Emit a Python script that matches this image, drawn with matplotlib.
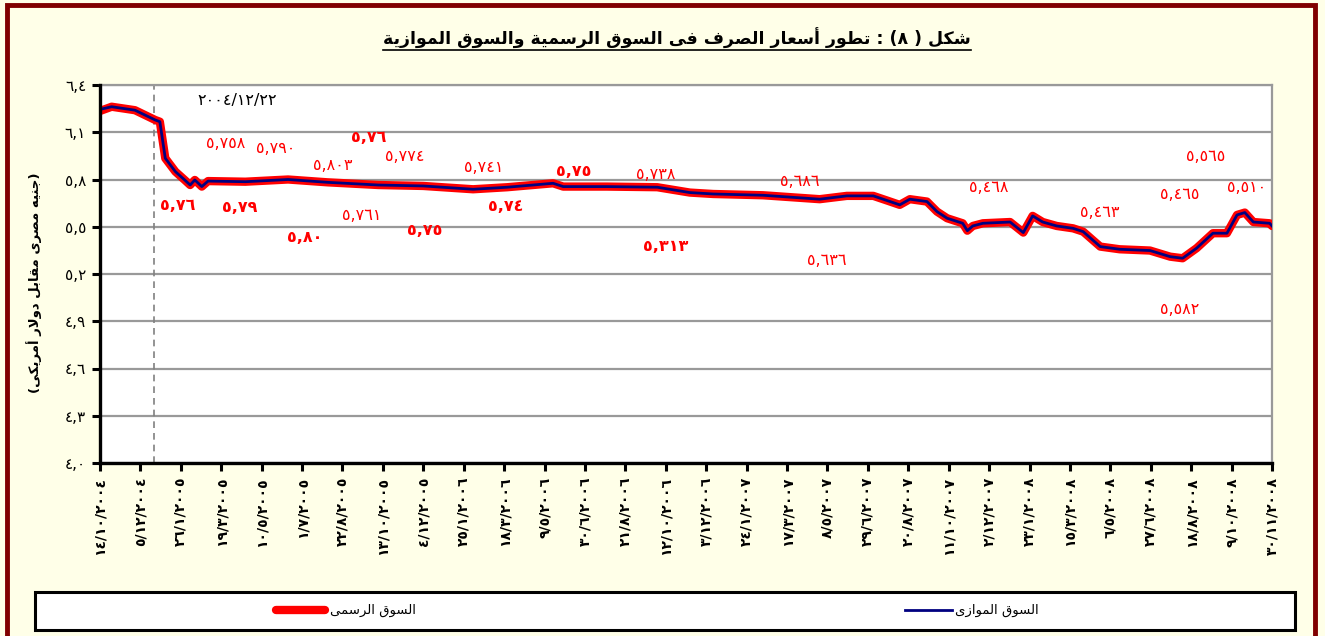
import re
import datetime as dt
import matplotlib
matplotlib.use('Agg')
import matplotlib.pyplot as plt
from matplotlib.patches import Rectangle
from matplotlib.lines import Line2D

plt.rcParams['font.family'] = ['DejaVu Sans']

# ---------------- data ----------------
dates = ['2004-10-14', '2004-10-29', '2004-11-28', '2004-12-24', '2004-12-30',
         '2005-01-06', '2005-01-19', '2005-01-31', '2005-02-07', '2005-02-13',
         '2005-02-22', '2005-03-02', '2005-04-19', '2005-06-13', '2005-08-03',
         '2005-10-07', '2005-12-04', '2006-02-06', '2006-03-22', '2006-05-20',
         '2006-06-02', '2006-07-28', '2006-10-01', '2006-11-12', '2006-12-12',
         '2007-02-14', '2007-04-28', '2007-06-02', '2007-07-06', '2007-07-24',
         '2007-08-09', '2007-08-22', '2007-09-13', '2007-09-26', '2007-10-09',
         '2007-10-29', '2007-11-04', '2007-11-11', '2007-11-24', '2007-12-29',
         '2008-01-15', '2008-01-27', '2008-02-09', '2008-02-27', '2008-03-19',
         '2008-04-01', '2008-04-23', '2008-05-18', '2008-06-26', '2008-07-22',
         '2008-08-07', '2008-08-25', '2008-09-15', '2008-10-03', '2008-10-16',
         '2008-10-26', '2008-11-06', '2008-11-27', '2008-11-30']
official = [6.235, 6.262, 6.240, 6.178, 6.167,
            5.935, 5.850, 5.797, 5.765, 5.797,
            5.755, 5.790, 5.786, 5.800, 5.782,
            5.765, 5.759, 5.738, 5.751, 5.776,
            5.755, 5.755, 5.751, 5.717, 5.708,
            5.700, 5.675, 5.696, 5.696, 5.666,
            5.639, 5.675, 5.660, 5.596, 5.554,
            5.522, 5.475, 5.505, 5.522, 5.530,
            5.463, 5.569, 5.530, 5.505, 5.490,
            5.469, 5.374, 5.357, 5.349, 5.310,
            5.300, 5.364, 5.459, 5.459, 5.575,
            5.590, 5.530, 5.522, 5.505]
parallel = [6.245, 6.262, 6.240, 6.178, 6.167,
            5.935, 5.850, 5.797, 5.765, 5.797,
            5.755, 5.790, 5.786, 5.800, 5.782,
            5.765, 5.759, 5.738, 5.751, 5.776,
            5.755, 5.755, 5.751, 5.717, 5.708,
            5.700, 5.675, 5.696, 5.696, 5.666,
            5.639, 5.675, 5.660, 5.596, 5.554,
            5.522, 5.475, 5.505, 5.522, 5.530,
            5.463, 5.569, 5.530, 5.505, 5.490,
            5.469, 5.374, 5.357, 5.349, 5.310,
            5.300, 5.364, 5.459, 5.459, 5.575,
            5.590, 5.530, 5.522, 5.505]

tick_labels = ['١٤/١٠/٢٠٠٤', '٥/١٢/٢٠٠٤', '٢٦/١/٢٠٠٥', '١٩/٣/٢٠٠٥', '١٠/٥/٢٠٠٥',
               '١/٧/٢٠٠٥', '٢٢/٨/٢٠٠٥', '١٣/١٠/٢٠٠٥', '٤/١٢/٢٠٠٥', '٢٥/١/٢٠٠٦',
               '١٨/٣/٢٠٠٦', '٩/٥/٢٠٠٦', '٣٠/٦/٢٠٠٦', '٢١/٨/٢٠٠٦', '١٢/١٠/٢٠٠٦',
               '٣/١٢/٢٠٠٦', '٢٤/١/٢٠٠٧', '١٧/٣/٢٠٠٧', '٨/٥/٢٠٠٧', '٢٩/٦/٢٠٠٧',
               '٢٠/٨/٢٠٠٧', '١١/١٠/٢٠٠٧', '٢/١٢/٢٠٠٧', '٢٣/١/٢٠٠٨', '١٥/٣/٢٠٠٨',
               '٦/٥/٢٠٠٨', '٢٧/٦/٢٠٠٨', '١٨/٨/٢٠٠٨', '٩/١٠/٢٠٠٨', '٣٠/١١/٢٠٠٨']
y_ticks = [4.0, 4.3, 4.6, 4.9, 5.2, 5.5, 5.8, 6.1, 6.4]
y_tick_labels = ['٤,٠', '٤,٣', '٤,٦', '٤,٩', '٥,٢', '٥,٥', '٥,٨', '٦,١', '٦,٤']

marker_date = '2004-12-22'
marker_label = '٢٠٠٤/١٢/٢٢'

annot_texts = ['٥,٧٥٨', '٥,٧٩٠', '٥,٧٦', '٥,٨٠٣', '٥,٧٧٤', '٥,٧٤١', '٥,٧٥', '٥,٧٦',
               '٥,٧٩', '٥,٧٦١', '٥,٨٠', '٥,٧٥', '٥,٧٤', '٥,٧٣٨', '٥,٣١٣', '٥,٦٨٦',
               '٥,٦٣٦', '٥,٤٦٨', '٥,٤٦٣', '٥,٥٦٥', '٥,٤٦٥', '٥,٥١٠', '٥,٥٨٢']

title_text = 'شكل ( ٨) : تطور أسعار الصرف فى السوق الرسمية والسوق الموازية'
ylabel_text = '(جنيه مصرى مقابل دولار أمريكى)'
series_names = ['السوق الرسمى', 'السوق الموازى']

# ---------------- layout / style (not data) ----------------
annot_pos = [(0.107, 0.846), (0.150, 0.833), (0.229, 0.862), (0.199, 0.786),
             (0.260, 0.810), (0.327, 0.781), (0.404, 0.770), (0.066, 0.680),
             (0.119, 0.675), (0.223, 0.656), (0.175, 0.596), (0.277, 0.614),
             (0.346, 0.678), (0.474, 0.762), (0.483, 0.572), (0.597, 0.746),
             (0.620, 0.537), (0.758, 0.728), (0.853, 0.662), (0.943, 0.811),
             (0.921, 0.709), (0.978, 0.730), (0.921, 0.405)]
annot_bold = [False, False, True, False, False, False, True, True,
              True, False, True, True, True, False, True, False,
              False, False, False, False, False, False, False]

# ---------------- minimal Arabic shaping ----------------
FORMS = {
    '\u0627': ('\uFE8D', '\uFE8E', None, None),
    '\u0623': ('\uFE83', '\uFE84', None, None),
    '\u0628': ('\uFE8F', '\uFE90', '\uFE91', '\uFE92'),
    '\u0629': ('\uFE93', '\uFE94', None, None),
    '\u062A': ('\uFE95', '\uFE96', '\uFE97', '\uFE98'),
    '\u062C': ('\uFE9D', '\uFE9E', '\uFE9F', '\uFEA0'),
    '\u062F': ('\uFEA9', '\uFEAA', None, None),
    '\u0631': ('\uFEAD', '\uFEAE', None, None),
    '\u0632': ('\uFEAF', '\uFEB0', None, None),
    '\u0633': ('\uFEB1', '\uFEB2', '\uFEB3', '\uFEB4'),
    '\u0634': ('\uFEB5', '\uFEB6', '\uFEB7', '\uFEB8'),
    '\u0635': ('\uFEB9', '\uFEBA', '\uFEBB', '\uFEBC'),
    '\u0637': ('\uFEC1', '\uFEC2', '\uFEC3', '\uFEC4'),
    '\u0639': ('\uFEC9', '\uFECA', '\uFECB', '\uFECC'),
    '\u0641': ('\uFED1', '\uFED2', '\uFED3', '\uFED4'),
    '\u0642': ('\uFED5', '\uFED6', '\uFED7', '\uFED8'),
    '\u0643': ('\uFED9', '\uFEDA', '\uFEDB', '\uFEDC'),
    '\u0644': ('\uFEDD', '\uFEDE', '\uFEDF', '\uFEE0'),
    '\u0645': ('\uFEE1', '\uFEE2', '\uFEE3', '\uFEE4'),
    '\u0646': ('\uFEE5', '\uFEE6', '\uFEE7', '\uFEE8'),
    '\u0647': ('\uFEE9', '\uFEEA', '\uFEEB', '\uFEEC'),
    '\u0648': ('\uFEED', '\uFEEE', None, None),
    '\u0649': ('\uFEEF', '\uFEF0', '\uFBE8', '\uFBE9'),
    '\u064A': ('\uFEF1', '\uFEF2', '\uFEF3', '\uFEF4'),
}
LAMALEF = {'\u0627': ('\uFEFB', '\uFEFC'), '\u0623': ('\uFEF7', '\uFEF8')}
MIRROR = {'(': ')', ')': '('}


def _dual(c):
    return c in FORMS and FORMS[c][2] is not None


def shape(s):
    res = []
    i, n = 0, len(s)
    while i < n:
        c = s[i]
        prev = s[i - 1] if i > 0 else None
        link_prev = prev is not None and _dual(prev) and c in FORMS
        if c == '\u0644' and i + 1 < n and s[i + 1] in LAMALEF:
            iso, fin = LAMALEF[s[i + 1]]
            res.append(fin if link_prev else iso)
            i += 2
            continue
        if c in FORMS:
            nxt = s[i + 1] if i + 1 < n else None
            link_next = _dual(c) and nxt is not None and nxt in FORMS
            f = FORMS[c]
            if link_prev and link_next:
                res.append(f[3])
            elif link_prev:
                res.append(f[1])
            elif link_next:
                res.append(f[2])
            else:
                res.append(f[0])
        else:
            res.append(c)
        i += 1
    return ''.join(res)


def visual(s):
    s = shape(s)
    toks = re.findall(r'[0-9\u0660-\u0669]+(?:[,./][0-9\u0660-\u0669]+)*|.', s)
    toks = [MIRROR.get(t, t) for t in toks]
    return ''.join(reversed(toks))


def to_ascii(s):
    return s.translate({0x0660 + k: str(k) for k in range(10)})


def parse_label(lbl):
    d, m, y = to_ascii(lbl).split('/')
    return dt.datetime(int(y), int(m), int(d))


# ---------------- figure ----------------
W, H = 1325, 636
BG = '#FFFFE8'
fig = plt.figure(figsize=(W / 100, H / 100), dpi=100, facecolor=BG)

ax = fig.add_axes([100 / W, 1 - 463 / H, 1172 / W, 378 / H])
ax.set_facecolor('white')

xd = [dt.datetime.strptime(d, '%Y-%m-%d') for d in dates]
ax.plot(xd, official, color='#FF0000', lw=6.0, solid_joinstyle='round',
        solid_capstyle='round', zorder=3)
ax.plot(xd, parallel, color='#000080', lw=2.0, zorder=4)

tick_pos = [parse_label(t) for t in tick_labels]
ax.set_xlim(tick_pos[0], tick_pos[-1])
ax.set_xticks(tick_pos)
ax.set_xticklabels(tick_labels, rotation=90, fontsize=10, fontweight='bold')

ax.set_ylim(y_ticks[0], y_ticks[-1])
ax.set_yticks(y_ticks)
ax.set_yticklabels(y_tick_labels, fontsize=11)
ax.yaxis.grid(True, color='#999999', lw=1.6, zorder=0)
ax.set_axisbelow(True)

ax.tick_params(axis='both', direction='out', length=6, width=2.2, color='black', pad=4)
for side in ('left', 'bottom'):
    ax.spines[side].set_color('black')
    ax.spines[side].set_linewidth(2.4)
    ax.spines[side].set_zorder(5)
for side in ('top', 'right'):
    ax.spines[side].set_color('#999999')
    ax.spines[side].set_linewidth(1.6)

ax.axvline(dt.datetime.strptime(marker_date, '%Y-%m-%d'), color='#808080',
           lw=1.2, ls=(0, (4, 3)), zorder=2)
ax.text(0.117, 0.96, marker_label, transform=ax.transAxes, ha='center',
        va='center', fontsize=11.5, color='black')

for txt, (px, py), b in zip(annot_texts, annot_pos, annot_bold):
    ax.text(px, py, txt, transform=ax.transAxes, ha='center', va='center',
            fontsize=11.5, color='#FF0000', fontweight='bold' if b else 'normal',
            zorder=6)

# title with underline
title = fig.text(677 / W, 1 - 38 / H, visual(title_text), ha='center', va='center',
                 fontsize=12.5, fontweight='bold')
fig.text(34 / W, 1 - 283 / H, visual(ylabel_text), rotation=90, ha='center',
         va='center', fontsize=9.5, fontweight='bold')

# legend box
fig.patches.append(Rectangle((35 / W, 6 / H), 1260 / W, 38 / H, transform=fig.transFigure,
                             facecolor='white', edgecolor='black', lw=2.2, zorder=1))
ly = 1 - 610 / H
fig.lines.append(Line2D([276 / W, 325 / W], [ly, ly], transform=fig.transFigure,
                        color='#FF0000', lw=6.0, solid_capstyle='round'))
fig.text(330 / W, ly, visual(series_names[0]), ha='left', va='center', fontsize=9.5)
fig.lines.append(Line2D([905 / W, 952 / W], [ly, ly], transform=fig.transFigure,
                        color='#000080', lw=2.0))
fig.text(955 / W, ly, visual(series_names[1]), ha='left', va='center', fontsize=9.5)

# outer frame
fig.patches.append(Rectangle((7 / W, -0.05), 1308 / W, 1.05 - 5 / H,
                             transform=fig.transFigure, fill=False,
                             edgecolor='#800000', lw=3.5, zorder=0))

fig.canvas.draw()
bb = title.get_window_extent()
fig.lines.append(Line2D([bb.x0 / W, bb.x1 / W], [(bb.y0 - 1) / H, (bb.y0 - 1) / H],
                        transform=fig.transFigure, color='black', lw=1.2))

fig.savefig('out.png', dpi=100, facecolor=BG)
